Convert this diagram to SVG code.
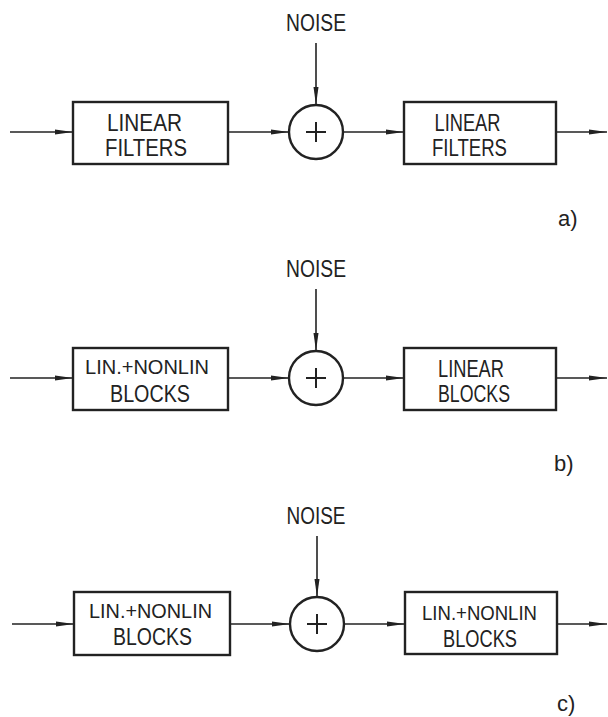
<svg xmlns="http://www.w3.org/2000/svg" width="608" height="717" viewBox="0 0 608 717">
<style>
.box{fill:none;stroke:#222;stroke-width:2.4}
.sum{fill:none;stroke:#222;stroke-width:2.4}
.plus{stroke:#222;stroke-width:2;fill:none}
.ln{stroke:#222;stroke-width:1.6;fill:none;marker-end:url(#ah)}
.t{font-family:"Liberation Sans",Arial,sans-serif;font-size:23px;fill:#222;text-anchor:middle}
.s{font-size:21px}
.lab{font-family:"Liberation Sans",Arial,sans-serif;font-size:22px;fill:#222}
</style>
<defs>
<marker id="ah" markerUnits="userSpaceOnUse" markerWidth="18" markerHeight="6" refX="18" refY="3" orient="auto">
<path d="M0,0.5 L18,3 L0,5.5 z" fill="#222"/>
</marker>
</defs>
<rect width="608" height="717" fill="#fff"/>

<!-- Panel a -->
<g id="a-noise"><text class="t" x="316" y="31" textLength="60" lengthAdjust="spacingAndGlyphs">NOISE</text></g>
<g id="a-box1"><rect class="box" x="73" y="102" width="155" height="62"/>
<text class="t" x="144.5" y="131" textLength="75" lengthAdjust="spacingAndGlyphs">LINEAR</text>
<text class="t" x="146" y="156" textLength="82" lengthAdjust="spacingAndGlyphs">FILTERS</text></g>
<g id="a-sum"><circle class="sum" cx="316" cy="132" r="27"/><path class="plus" d="M306,132H326M316,122V142"/></g>
<g id="a-box2"><rect class="box" x="404" y="102" width="152" height="62"/>
<text class="t" x="467.5" y="131" textLength="66" lengthAdjust="spacingAndGlyphs">LINEAR</text>
<text class="t" x="469.5" y="156" textLength="75" lengthAdjust="spacingAndGlyphs">FILTERS</text></g>
<g id="a-label"><text class="lab" x="558" y="226">a)</text></g>

<!-- Panel b -->
<g id="b-noise"><text class="t" x="316" y="277" textLength="60" lengthAdjust="spacingAndGlyphs">NOISE</text></g>
<g id="b-box1"><rect class="box" x="73" y="348" width="155" height="62"/>
<text class="t s" x="147" y="374" textLength="124" lengthAdjust="spacingAndGlyphs">LIN.+NONLIN</text>
<text class="t" x="150" y="402" textLength="80" lengthAdjust="spacingAndGlyphs">BLOCKS</text></g>
<g id="b-sum"><circle class="sum" cx="316" cy="378" r="27"/><path class="plus" d="M306,378H326M316,368V388"/></g>
<g id="b-box2"><rect class="box" x="404" y="348" width="152" height="62"/>
<text class="t" x="471" y="377" textLength="66" lengthAdjust="spacingAndGlyphs">LINEAR</text>
<text class="t" x="474" y="402" textLength="72" lengthAdjust="spacingAndGlyphs">BLOCKS</text></g>
<g id="b-label"><text class="lab" x="554" y="471">b)</text></g>

<!-- Panel c -->
<g id="c-noise"><text class="t" x="316" y="524" textLength="59" lengthAdjust="spacingAndGlyphs">NOISE</text></g>
<g id="c-box1"><rect class="box" x="74" y="592" width="156" height="63"/>
<text class="t s" x="150.5" y="618" textLength="123" lengthAdjust="spacingAndGlyphs">LIN.+NONLIN</text>
<text class="t" x="152.5" y="645" textLength="79" lengthAdjust="spacingAndGlyphs">BLOCKS</text></g>
<g id="c-sum"><circle class="sum" cx="317" cy="624" r="27"/><path class="plus" d="M307,624H327M317,614V634"/></g>
<g id="c-box2"><rect class="box" x="405" y="592" width="152" height="62"/>
<text class="t s" x="479.5" y="620" textLength="115" lengthAdjust="spacingAndGlyphs">LIN.+NONLIN</text>
<text class="t" x="480" y="647" textLength="74" lengthAdjust="spacingAndGlyphs">BLOCKS</text></g>
<g id="c-label"><text class="lab" x="557" y="711">c)</text></g>

<g id="connectors">
<path class="ln" d="M10,132H73"/>
<path class="ln" d="M228,132H289"/>
<path class="ln" d="M343,132H404"/>
<path class="ln" d="M556,132H607"/>
<path class="ln" d="M316,43V105"/>

<path class="ln" d="M10,378H73"/>
<path class="ln" d="M228,378H289"/>
<path class="ln" d="M343,378H404"/>
<path class="ln" d="M556,378H607"/>
<path class="ln" d="M316,289V351"/>

<path class="ln" d="M12,624H74"/>
<path class="ln" d="M230,624H290"/>
<path class="ln" d="M344,624H405"/>
<path class="ln" d="M557,624H607"/>
<path class="ln" d="M317,536V597"/>
</g>
</svg>
